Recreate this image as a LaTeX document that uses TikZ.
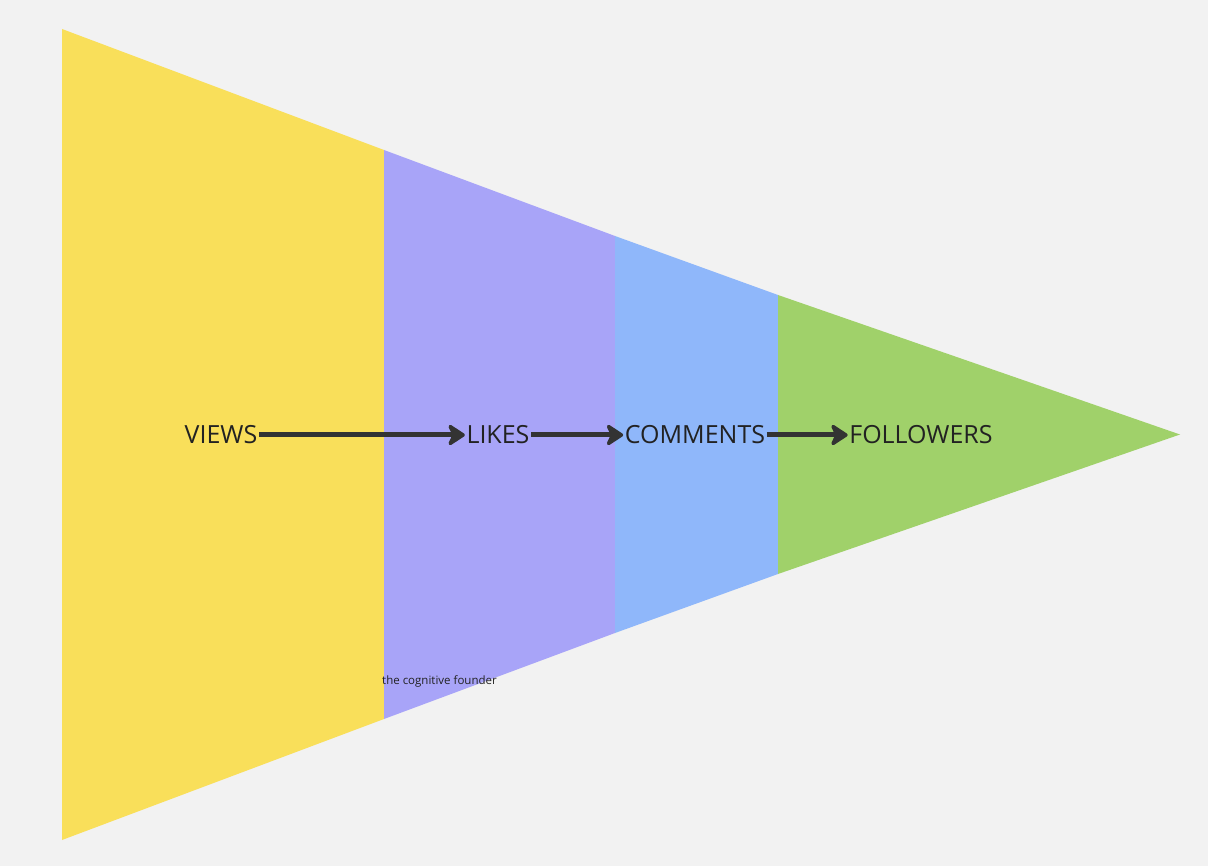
\documentclass[tikz,border=0pt]{standalone}
\usepackage{fontspec}
\setmainfont{Open Sans}
\usetikzlibrary{arrows.meta}
\definecolor{bg}{HTML}{F2F2F2}
\definecolor{cyellow}{HTML}{F9DF5A}
\definecolor{cpurple}{HTML}{A8A4F8}
\definecolor{cblue}{HTML}{8FB7FA}
\definecolor{cgreen}{HTML}{A0D16A}
\definecolor{ink}{HTML}{222222}
\definecolor{arrowc}{HTML}{333333}
\tikzset{
  lbl/.style={font=\fontsize{25}{29}\selectfont, text=ink, inner sep=1.5pt, anchor=center},
  flow/.style={draw=arrowc, line width=5pt, line join=round,
    -{Stealth[length=20pt, width=26pt, inset=6pt, round]}},
  band/.style={draw=none}
}
\begin{document}
\begin{tikzpicture}[x=1pt, y=-1pt]
\fill[bg] (0,0) rectangle (1208,866);
\useasboundingbox (0,0) rectangle (1208,866);
% bands
\fill[cyellow] (62,29) -- (384,150) -- (384,719) -- (62,840) -- cycle;
\fill[cpurple] (384,150) -- (615,236) -- (615,633) -- (384,719) -- cycle;
\fill[cblue] (615,236) -- (778,295) -- (778,574) -- (615,633) -- cycle;
\fill[cgreen] (778,295) -- (1180,434.5) -- (778,574) -- cycle;
% labels
\node[lbl] (views) at (221,435) {VIEWS};
\node[lbl] (likes) at (498,435) {LIKES};
\node[lbl] (comments) at (695,435) {COMMENTS};
\node[lbl] (followers) at (921,435) {FOLLOWERS};
\node[font=\fontsize{11.5}{13}\selectfont, text=ink, inner sep=0pt, anchor=west] (credit) at (382,681) {the cognitive founder};
% arrows
\draw[flow] (views.east) -- (likes.west);
\draw[flow] (likes.east) -- (comments.west);
\draw[flow] (comments.east) -- (followers.west);
\end{tikzpicture}
\end{document}
